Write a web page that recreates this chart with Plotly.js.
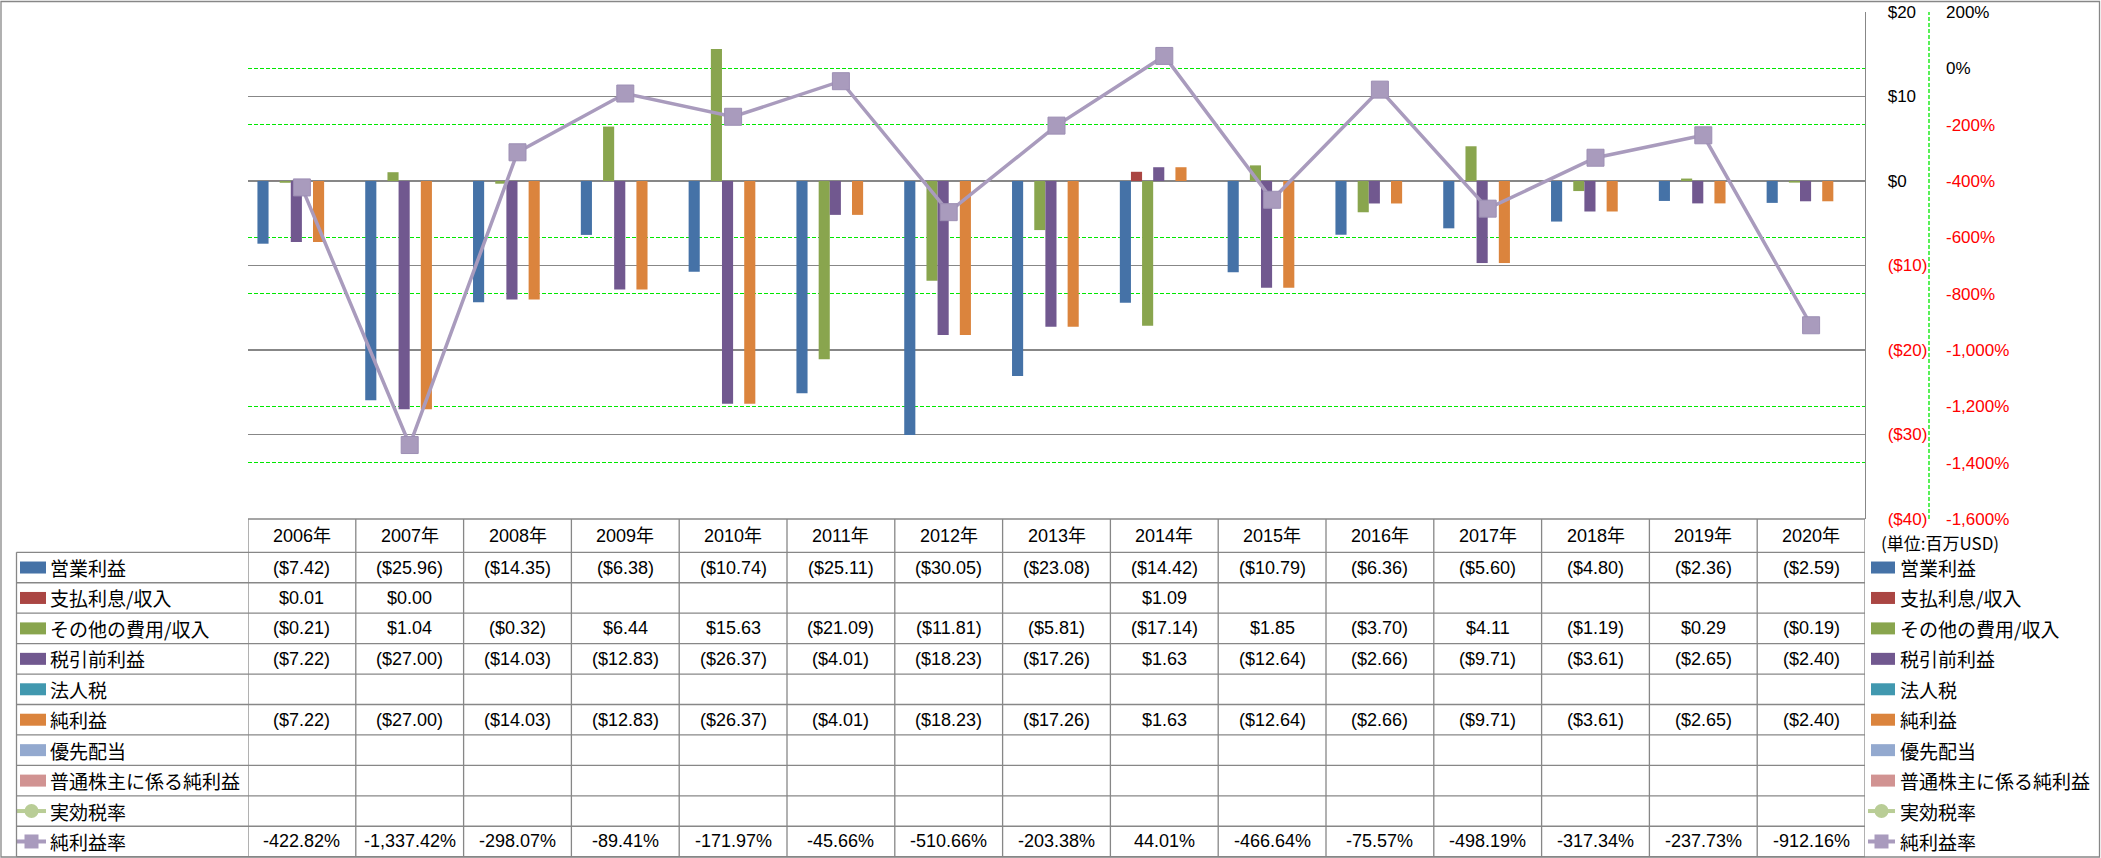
<!DOCTYPE html>
<html>
<head>
<meta charset="utf-8">
<script src="https://cdn.plot.ly/plotly-3.0.1.min.js"></script>
<style>html,body{margin:0;padding:0;background:#fff;}#chart{width:2101px;height:858px;}</style>
</head>
<body>
<div id="chart"></div>
<script>
// ---------- data ----------
const years = ["2006年","2007年","2008年","2009年","2010年","2011年","2012年","2013年","2014年","2015年","2016年","2017年","2018年","2019年","2020年"];
const operatingIncome = [-7.42,-25.96,-14.35,-6.38,-10.74,-25.11,-30.05,-23.08,-14.42,-10.79,-6.36,-5.60,-4.80,-2.36,-2.59];
const interestIncome  = [0.01,0.00,null,null,null,null,null,null,1.09,null,null,null,null,null,null];
const otherIncome     = [-0.21,1.04,-0.32,6.44,15.63,-21.09,-11.81,-5.81,-17.14,1.85,-3.70,4.11,-1.19,0.29,-0.19];
const pretaxIncome    = [-7.22,-27.00,-14.03,-12.83,-26.37,-4.01,-18.23,-17.26,1.63,-12.64,-2.66,-9.71,-3.61,-2.65,-2.40];
const incomeTax       = [null,null,null,null,null,null,null,null,null,null,null,null,null,null,null];
const netIncome       = [-7.22,-27.00,-14.03,-12.83,-26.37,-4.01,-18.23,-17.26,1.63,-12.64,-2.66,-9.71,-3.61,-2.65,-2.40];
const prefDividends   = [null,null,null,null,null,null,null,null,null,null,null,null,null,null,null];
const netToCommon     = [null,null,null,null,null,null,null,null,null,null,null,null,null,null,null];
const effectiveTaxRate= [null,null,null,null,null,null,null,null,null,null,null,null,null,null,null];
const netMargin       = [-422.82,-1337.42,-298.07,-89.41,-171.97,-45.66,-510.66,-203.38,44.01,-466.64,-75.57,-498.19,-317.34,-237.73,-912.16];

const barNames = ["営業利益","支払利息/収入","その他の費用/収入","税引前利益","法人税","純利益","優先配当","普通株主に係る純利益"];
const lineNames = ["実効税率","純利益率"];

const yTickVals = [20,10,0,-10,-20,-30,-40];
const yTickText = ["$20","$10","$0","($10)","($20)","($30)","($40)"];
const y2TickVals = [200,0,-200,-400,-600,-800,-1000,-1200,-1400,-1600];
const y2TickText = ["200%","0%","-200%","-400%","-600%","-800%","-1,000%","-1,200%","-1,400%","-1,600%"];
const unitLabel = "(単位:百万USD)";

// ---------- styles ----------
const barSeries = [operatingIncome,interestIncome,otherIncome,pretaxIncome,incomeTax,netIncome,prefDividends,netToCommon];
const barColors = ["#4572A7","#AA4643","#89A54E","#71588F","#4198AF","#DB843D","#93A9CF","#D19392"];
const lineSeries = [effectiveTaxRate, netMargin];
const lineColors = ["#B9CD96","#A99BBD"];
const RED = "#FF0000";
const GRID = "#878787";
const GREEN = "#00E800";
const NUMFONT = "Liberation Sans, Arial, Noto Sans CJK JP, sans-serif";
const JPFONT = "Noto Sans CJK JP, sans-serif";

// pixel geometry
const L = 248, R = 1865, T = 12, B = 519;
const px = x => (x - L) / (R - L);
const py = y => (B - y) / (B - T);
const headTop = 519, headBot = 552.3, rowH = 30.44;
const rowTop = k => headBot + k * rowH;

const traces = [];
barSeries.forEach((s, i) => {
  traces.push({type:"bar", name:barNames[i], x:years, y:s, marker:{color:barColors[i]}, yaxis:"y", xaxis:"x", hoverinfo:"x+y+name"});
});
lineSeries.forEach((s, i) => {
  traces.push({type:"scatter", mode:"lines+markers", name:lineNames[i], x:years, y:s, yaxis:"y2", xaxis:"x",
    line:{color:lineColors[i], width:3.5},
    marker:{symbol: i === 0 ? "circle" : "square", size:17, color:lineColors[i], line:{color: i===0 ? "#A9BE86" : "#9D8FB4", width:1}}});
});

function fmtMoney(v){
  if (v === null || v === undefined) return "";
  const a = Math.abs(v).toFixed(2);
  return v < 0 ? "($" + a + ")" : "$" + a;
}
function fmtPct(v){
  if (v === null || v === undefined) return "";
  return v.toLocaleString("en-US",{minimumFractionDigits:2, maximumFractionDigits:2}) + "%";
}
function colorTxt(t, neg){ return neg ? '<span style="color:' + RED + '">' + t + '</span>' : t; }

const annotations = [];
const shapes = [];
const lineStyle = {color:GRID, width:1.3};

// header
years.forEach(yr => annotations.push({x:yr, xref:"x", y:py((headTop+headBot)/2), yref:"paper", text:yr, showarrow:false,
  xanchor:"center", yanchor:"middle", font:{family:NUMFONT, size:18, color:"#000"}}));

// rows
const allRows = barSeries.concat(lineSeries);
const rowNames = barNames.concat(lineNames);
const rowColors = barColors.concat(lineColors);
allRows.forEach((s, k) => {
  const yc = py(rowTop(k) + rowH/2);
  s.forEach((v, i) => {
    const t = k < barSeries.length ? fmtMoney(v) : fmtPct(v);
    if (t) annotations.push({x:years[i], xref:"x", y:yc, yref:"paper", text:t, showarrow:false,
      xanchor:"center", yanchor:"middle", font:{family:NUMFONT, size:18, color:"#000"}});
  });
  // labels left & right
  [[48, 17, 46], [1898, 1868, 1895]].forEach(([tx, k0, k1]) => {
    annotations.push({x:px(tx), xref:"paper", y:yc, yref:"paper", text:rowNames[k], showarrow:false,
      xanchor:"left", yanchor:"middle", font:{family:JPFONT, size:19, color:"#000"}});
    const ycp = rowTop(k) + rowH/2;
    if (k < barSeries.length) {
      shapes.push({type:"rect", xref:"paper", yref:"paper", x0:px(k0+3), x1:px(k1), y0:py(ycp-6), y1:py(ycp+6),
        fillcolor:rowColors[k], line:{width:0}});
    } else {
      shapes.push({type:"line", xref:"paper", yref:"paper", x0:px(k0), x1:px(k1), y0:py(ycp), y1:py(ycp),
        line:{color:rowColors[k], width:4}});
      const cx = (k0 + k1) / 2;
      shapes.push({type: k === barSeries.length ? "circle" : "rect", xref:"paper", yref:"paper",
        x0:px(cx-7), x1:px(cx+7), y0:py(ycp-7), y1:py(ycp+7), fillcolor:rowColors[k], line:{width:0}});
    }
  });
});

// unit label
annotations.push({x:px(1879), xref:"paper", y:py(542), yref:"paper", text:unitLabel, showarrow:false,
  xanchor:"left", yanchor:"middle", font:{family:JPFONT, size:17, color:"#000"}});

// table grid lines
shapes.push({type:"line", xref:"paper", yref:"paper", x0:px(L), x1:px(R), y0:py(headTop), y1:py(headTop), line:lineStyle});
for (let k = 0; k <= allRows.length; k++) {
  shapes.push({type:"line", xref:"paper", yref:"paper", x0:px(16.5), x1:px(R), y0:py(rowTop(k)), y1:py(rowTop(k)), line:lineStyle});
}
for (let i = 0; i <= years.length; i++) {
  shapes.push({type:"line", xref:"x", yref:"paper", x0:i-0.5, x1:i-0.5, y0:py(headTop), y1:py(rowTop(allRows.length)), line:lineStyle});
}
shapes.push({type:"line", xref:"paper", yref:"paper", x0:px(16.5), x1:px(16.5), y0:py(headBot), y1:py(rowTop(allRows.length)), line:lineStyle});
// secondary axis dashed line
shapes.push({type:"line", xref:"paper", yref:"paper", x0:px(1929), x1:px(1929), y0:0, y1:1, line:{color:GREEN, width:1.3, dash:"4px,2px"}});
// outer border
shapes.push({type:"rect", xref:"paper", yref:"paper", x0:px(1), x1:px(2099.5), y0:py(857), y1:py(1.5), line:{color:GRID, width:1.3}, fillcolor:"rgba(0,0,0,0)"});

const layout = {
  width:2101, height:858,
  margin:{l:L, r:2101-R, t:T, b:858-B, pad:0},
  paper_bgcolor:"#fff", plot_bgcolor:"#fff",
  showlegend:false,
  barmode:"group", bargap:0.175, bargroupgap:0,
  xaxis:{type:"category", range:[-0.5, years.length-0.5], autorange:false, showticklabels:false, showgrid:false, zeroline:false, showline:false, ticks:"", fixedrange:true},
  yaxis:{side:"right", range:[-40,20], tickmode:"array", tickvals:yTickVals,
    ticktext:yTickText.map((t,i)=>colorTxt(t, yTickVals[i] < 0)),
    showgrid:true, gridcolor:GRID, gridwidth:1.3, zeroline:false, showline:true, linecolor:GRID, linewidth:1.3,
    ticks:"", ticklabelstandoff:18, tickfont:{family:NUMFONT, size:17, color:"#000"}},
  yaxis2:{overlaying:"y", side:"right", anchor:"free", position:1, shift:64, range:[-1600,200],
    tickmode:"array", tickvals:y2TickVals, ticktext:y2TickText.map((t,i)=>colorTxt(t, y2TickVals[i] < 0)),
    showgrid:false, zeroline:false, showline:false, ticks:"", ticklabelstandoff:16,
    tickfont:{family:NUMFONT, size:17, color:"#000"},
    minor:{tickmode:"array", tickvals:[0,-200,-600,-800,-1200,-1400], showgrid:true, gridcolor:GREEN, gridwidth:1.3, griddash:"4px,2px", ticks:""}},
  annotations:annotations,
  shapes:shapes
};

Plotly.newPlot("chart", traces, layout, {staticPlot:true, displayModeBar:false});
</script>
</body>
</html>
